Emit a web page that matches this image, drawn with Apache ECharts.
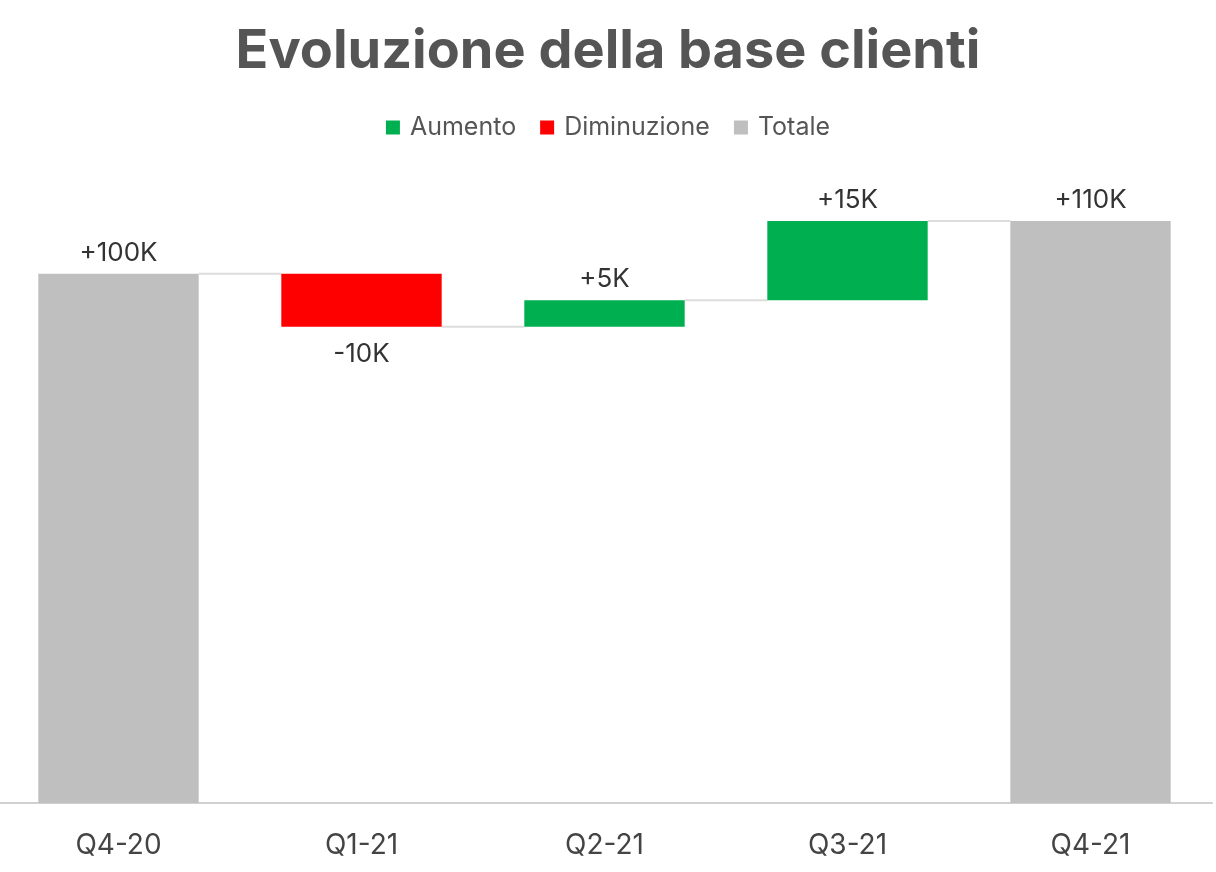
<!DOCTYPE html>
<html>
<head>
<meta charset="utf-8">
<script src="https://cdn.jsdelivr.net/npm/echarts@6/dist/echarts.min.js"></script>
<style>
  html, body { margin: 0; padding: 0; background: #fff; }
  #main { width: 1216px; height: 872px; }
</style>
</head>
<body>
<div id="main"></div>
<script>
// dati
var categories = ['Q4-20', 'Q1-21', 'Q2-21', 'Q3-21', 'Q4-21'];
var aumento = ['-', '-', 5, 15, '-'];
var diminuzione = ['-', 10, '-', '-', '-'];
var totale = [100, '-', '-', '-', 110];

// base invisibile e livello dopo ogni colonna
var base = [];
var livello = [];
var run = 0;
for (var i = 0; i < categories.length; i++) {
    var up = aumento[i] === '-' ? 0 : aumento[i];
    var down = diminuzione[i] === '-' ? 0 : diminuzione[i];
    if (totale[i] !== '-') {
        base.push(0);
        run = totale[i];
    } else if (down) {
        run = run - down;
        base.push(run);
    } else {
        base.push(run);
        run = run + up;
    }
    livello.push(run);
}

var font = 'Inter, "Noto Sans", sans-serif';
var chart = echarts.init(document.getElementById('main'));

var option = {
    backgroundColor: '#fff',
    title: {
        text: 'Evoluzione della base clienti',
        left: 'center',
        top: 20,
        textStyle: { fontFamily: font, fontSize: 54, fontWeight: 'bold', color: '#555' }
    },
    legend: {
        data: ['Aumento', 'Diminuzione', 'Totale'],
        top: 110,
        left: 'center',
        icon: 'rect',
        itemWidth: 14,
        itemHeight: 14,
        itemGap: 24,
        textStyle: { fontFamily: font, fontSize: 25, color: '#555', padding: [0, 0, 0, 5] }
    },
    grid: { left: -3, right: 4, top: 168, bottom: 69, outerBoundsMode: 'none' },
    xAxis: {
        type: 'category',
        data: categories,
        axisLine: { lineStyle: { color: '#d0d0d0', width: 2 } },
        axisTick: { show: false },
        axisLabel: { margin: 29, fontFamily: font, fontSize: 28, color: '#444' }
    },
    yAxis: {
        type: 'value',
        min: 0,
        max: 120,
        show: false,
        splitLine: { show: false }
    },
    series: [
        {
            name: 'base',
            type: 'bar',
            stack: 'w',
            barWidth: '66%',
            itemStyle: { color: 'transparent' },
            emphasis: { disabled: true },
            data: base
        },
        {
            name: 'Aumento',
            type: 'bar',
            stack: 'w',
            itemStyle: { color: '#00B050' },
            label: {
                show: true, position: 'top', distance: 8,
                fontFamily: font, fontSize: 26, color: '#333',
                formatter: function (p) { return '+' + p.value + 'K'; }
            },
            data: aumento
        },
        {
            name: 'Diminuzione',
            type: 'bar',
            stack: 'w',
            itemStyle: { color: '#FF0000' },
            label: {
                show: true, position: 'bottom', distance: 14,
                fontFamily: font, fontSize: 26, color: '#333',
                formatter: function (p) { return '-' + p.value + 'K'; }
            },
            data: diminuzione
        },
        {
            name: 'Totale',
            type: 'bar',
            stack: 'w',
            itemStyle: { color: '#BFBFBF' },
            label: {
                show: true, position: 'top', distance: 8,
                fontFamily: font, fontSize: 26, color: '#333',
                formatter: function (p) { return '+' + p.value + 'K'; }
            },
            data: totale
        },
        {
            // linee di collegamento
            name: 'connettori',
            type: 'custom',
            silent: true,
            z: 1,
            data: livello.slice(0, livello.length - 1).map(function (v, i) { return [i, v]; }),
            renderItem: function (params, api) {
                var i = api.value(0);
                var v = api.value(1);
                var a = api.coord([i, v]);
                var b = api.coord([i + 1, v]);
                var half = api.size([1, 0])[0] * 0.33;
                return {
                    type: 'line',
                    shape: { x1: a[0] + half, y1: a[1], x2: b[0] - half, y2: b[1] },
                    style: { stroke: '#dcdcdc', lineWidth: 2 }
                };
            }
        }
    ]
};
chart.setOption(option);
</script>
</body>
</html>
